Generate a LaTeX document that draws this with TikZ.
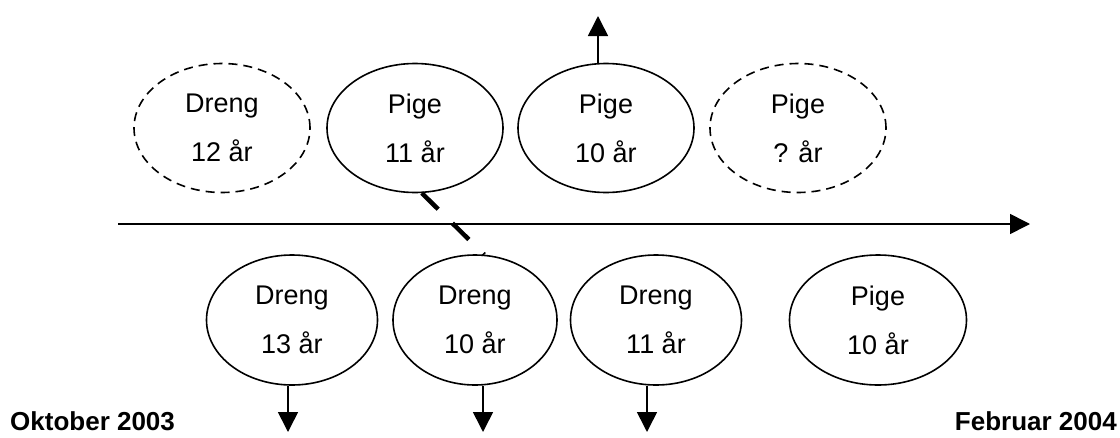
\documentclass[tikz,border=0pt]{standalone}
\usepackage{fontspec}
\setmainfont{Liberation Sans}
\usetikzlibrary{shapes.geometric,arrows.meta}
\begin{document}
\begin{tikzpicture}[x=1pt,y=-1pt,
  person/.style={ellipse,draw,line width=1.6pt,inner sep=0pt,minimum width=176pt,minimum height=129pt,
     align=center,font=\fontsize{27}{49}\selectfont},
  unsure/.style={person,dash pattern=on 9pt off 6pt},
  arr/.style={line width=1.6pt,-{Triangle[width=20pt,length=20pt]}},
  datelbl/.style={font=\fontsize{26}{30}\bfseries\selectfont,inner sep=0pt}]
\useasboundingbox (0,0) rectangle (1120,437);
% top row
\node[unsure] (t1) at (222,128) {Dreng\\12 år};
\node[person] (t2) at (415,128) {Pige\\11 år};
\node[person] (t3) at (606,128) {Pige\\10 år};
\node[unsure] (t4) at (798,128) {Pige\\? år};
% bottom row
\node[person,minimum width=171pt,minimum height=130pt] (b1) at (292,320) {Dreng\\13 år};
\node[person,minimum width=164pt,minimum height=130pt] (b2) at (475,320) {Dreng\\10 år};
\node[person,minimum width=171pt,minimum height=130pt] (b3) at (656,320) {Dreng\\11 år};
\node[person,minimum width=177pt,minimum height=130pt] (b4) at (878,320) {Pige\\10 år};
% time axis
\coordinate (ax0) at (118,224);
\coordinate (ax1) at (1030,224);
\draw[arr] (ax0) -- (ax1);
% leaving / arriving
\coordinate (u3) at (598,16);
\draw[arr] (t3.north -| u3) -- (u3);
\coordinate (d1) at (288,432);
\coordinate (d2) at (483,432);
\coordinate (d3) at (647,432);
\draw[arr] (b1.south -| d1) -- (d1);
\draw[arr] (b2.south -| d2) -- (d2);
\draw[arr] (b3.south -| d3) -- (d3);
% link
\draw[line width=4.5pt,dash pattern=on 23pt off 20pt] (t2.-84) -- (b2.82);
% dates
\node[datelbl,anchor=base west] (od) at (10,430) {Oktober 2003};
\node[datelbl,anchor=base east] (fd) at (1117,430) {Februar 2004};
\end{tikzpicture}
\end{document}
